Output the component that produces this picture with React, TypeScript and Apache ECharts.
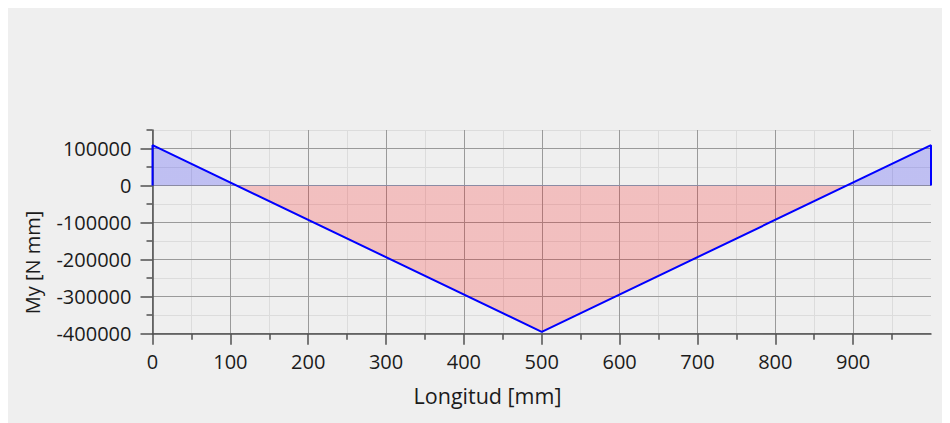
import React, { useEffect, useRef } from "react";
import * as echarts from "echarts";

// Bending moment diagram (x in mm, My in N mm)
const positions = [0, 0, 500, 1000, 1000];
const moments = [0, 109000, -395000, 109000, 0];
const xRange = [0, 1000];
const yRange = [-400000, 150000];
const xMajorTicks = [0, 100, 200, 300, 400, 500, 600, 700, 800, 900];
const xMinorTicks = [50, 150, 250, 350, 450, 550, 650, 750, 850, 950];
const yMajorTicks = [-400000, -300000, -200000, -100000, 0, 100000];
const yMinorTicks = [-350000, -250000, -150000, -50000, 50000, 150000];
const xAxisTitle = "Longitud [mm]";
const yAxisTitle = "My [N mm]";

const FONT = "Open Sans";
const TEXT = "#1b1b1b";

export default function App() {
  const ref = useRef<HTMLDivElement>(null);
  useEffect(() => {
    if (!ref.current) return;
    const chart = echarts.init(ref.current, null, { renderer: "svg" });
    const pts = positions.map((x, i) => [x, moments[i]]);
    const axisCol = "#505050";
    const major = "#9a9a9a";
    const minor = "#dcdcdc";
    const plain = (v: number) => String(v);
    chart.setOption({
      animation: false,
      backgroundColor: "#efefef",
      grid: { left: 144.5, right: 19, top: 122, bottom: 89.3, containLabel: false },
      xAxis: [
        {
          type: "value",
          min: xRange[0],
          max: xRange[1],
          interval: 100,
          position: "bottom",
          z: 2,
          axisLine: { show: true, onZero: false, lineStyle: { color: axisCol, width: 1.5 } },
          axisTick: { show: true, customValues: xMajorTicks, length: 11, lineStyle: { color: axisCol, width: 1.5 } },
          axisLabel: { customValues: xMajorTicks, formatter: plain, fontFamily: FONT, fontSize: 20, color: TEXT, margin: 18 },
          splitLine: { show: true, lineStyle: { color: major, width: 1 } },
        },
        {
          type: "value",
          min: xRange[0],
          max: xRange[1],
          interval: 50,
          position: "bottom",
          z: 0,
          axisLine: { show: false, onZero: false },
          axisTick: { show: true, customValues: xMinorTicks, length: 6, lineStyle: { color: axisCol, width: 1.5 } },
          axisLabel: { show: false },
          splitLine: { show: true, lineStyle: { color: minor, width: 1 } },
        },
      ],
      yAxis: [
        {
          type: "value",
          min: yRange[0],
          max: yRange[1],
          interval: 100000,
          position: "left",
          z: 2,
          axisLine: { show: true, onZero: false, lineStyle: { color: axisCol, width: 1.5 } },
          axisTick: { show: true, customValues: yMajorTicks, length: 12, lineStyle: { color: axisCol, width: 1.5 } },
          axisLabel: { customValues: yMajorTicks, formatter: plain, fontFamily: FONT, fontSize: 20, color: TEXT, margin: 21 },
          splitLine: { show: true, lineStyle: { color: major, width: 1 } },
        },
        {
          type: "value",
          min: yRange[0],
          max: yRange[1],
          interval: 50000,
          position: "left",
          z: 0,
          axisLine: { show: false, onZero: false },
          axisTick: { show: true, customValues: yMinorTicks, length: 6, lineStyle: { color: axisCol, width: 1.5 } },
          axisLabel: { show: false },
          splitLine: { show: true, lineStyle: { color: minor, width: 1 } },
        },
      ],
      visualMap: {
        show: false,
        type: "piecewise",
        seriesIndex: 1,
        dimension: 1,
        pieces: [
          { min: 0, max: 1000000, color: "rgb(0,0,255)" },
          { min: -1000000, max: 0, color: "rgb(255,0,0)" },
        ],
      },
      graphic: [
        {
          type: "text",
          x: 479.5,
          y: 387,
          style: { text: xAxisTitle, font: `21.5px "${FONT}"`, fill: TEXT, align: "center", verticalAlign: "middle" },
        },
        {
          type: "text",
          x: 24,
          y: 254.5,
          rotation: Math.PI / 2,
          style: { text: yAxisTitle, font: `20px "${FONT}"`, fill: TEXT, align: "center", verticalAlign: "middle" },
        },
      ],
      series: [
        {
          type: "line",
          data: pts,
          symbol: "none",
          z: 5,
          lineStyle: { color: "#0000ff", width: 2 },
        },
        {
          type: "line",
          data: pts,
          symbol: "none",
          z: 3,
          lineStyle: { width: 0, opacity: 0 },
          areaStyle: { opacity: 0.2 },
        },
      ],
    });
    return () => chart.dispose();
  }, []);
  return <div ref={ref} style={{ width: 942, height: 415 }} />;
}
